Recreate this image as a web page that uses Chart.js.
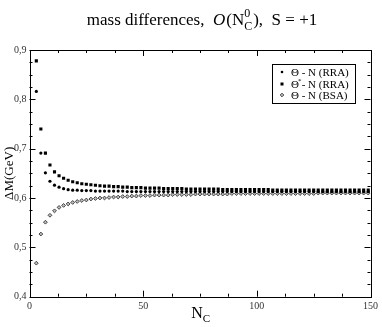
<!DOCTYPE html>
<html><head><meta charset="utf-8">
<script src="https://cdn.jsdelivr.net/npm/chart.js@4.4.1/dist/chart.umd.min.js"></script>
<style>html,body{margin:0;padding:0;background:#fff;}#wrap{width:382px;height:327px;}</style>
</head><body><div id="wrap"><canvas id="c" width="382" height="327"></canvas></div>
<script>
// N_C values (odd, 3..149)
const nc = [3,5,7,9,11,13,15,17,19,21,
  23,25,27,29,31,33,35,37,39,41,
  43,45,47,49,51,53,55,57,59,61,
  63,65,67,69,71,73,75,77,79,81,
  83,85,87,89,91,93,95,97,99,101,
  103,105,107,109,111,113,115,117,119,121,
  123,125,127,129,131,133,135,137,139,141,
  143,145,147,149];
// Θ - N (RRA)
const thetaRRA = [0.816,0.691,0.651,0.634,0.626,0.622,0.619,0.617,0.616,0.616,
  0.615,0.615,0.615,0.614,0.614,0.614,0.614,0.614,0.614,0.614,
  0.613,0.613,0.613,0.613,0.613,0.613,0.613,0.613,0.613,0.613,
  0.613,0.613,0.613,0.613,0.613,0.613,0.613,0.613,0.613,0.613,
  0.613,0.613,0.613,0.613,0.613,0.613,0.613,0.613,0.613,0.613,
  0.613,0.613,0.613,0.613,0.613,0.613,0.613,0.613,0.613,0.613,
  0.613,0.613,0.613,0.613,0.613,0.613,0.613,0.613,0.613,0.613,
  0.613,0.613,0.613,0.613];
// Θ* - N (RRA)
const thetaStarRRA = [0.878,0.740,0.691,0.667,0.653,0.645,0.640,0.636,0.633,0.631,
  0.629,0.628,0.627,0.626,0.625,0.624,0.624,0.623,0.623,0.622,
  0.622,0.621,0.621,0.621,0.620,0.620,0.620,0.620,0.619,0.619,
  0.619,0.619,0.619,0.618,0.618,0.618,0.618,0.618,0.618,0.618,
  0.618,0.617,0.617,0.617,0.617,0.617,0.617,0.617,0.617,0.617,
  0.617,0.617,0.616,0.616,0.616,0.616,0.616,0.616,0.616,0.616,
  0.616,0.616,0.616,0.616,0.616,0.616,0.616,0.616,0.616,0.616,
  0.616,0.616,0.616,0.616];
// Θ - N (BSA)
const thetaBSA = [0.468,0.527,0.551,0.565,0.574,0.581,0.585,0.588,0.591,0.593,
  0.595,0.596,0.598,0.599,0.600,0.600,0.601,0.602,0.602,0.603,
  0.603,0.604,0.604,0.605,0.605,0.605,0.606,0.606,0.606,0.606,
  0.607,0.607,0.607,0.607,0.607,0.608,0.608,0.608,0.608,0.608,
  0.608,0.608,0.608,0.609,0.609,0.609,0.609,0.609,0.609,0.609,
  0.609,0.609,0.609,0.609,0.609,0.609,0.609,0.609,0.609,0.609,
  0.609,0.609,0.610,0.610,0.610,0.610,0.610,0.610,0.610,0.610,
  0.610,0.610,0.610,0.610];
const xTickValues = [0,50,100,150];
const yTickValues = [0.4,0.5,0.6,0.7,0.8,0.9];

const SERIF = '"Liberation Serif","DejaVu Serif",serif';
const pts = arr => nc.map((n,i)=>({x:n,y:arr[i]}));

const decor = {
  id:'decor',
  afterDraw(chart){
    const ctx = chart.ctx, a = chart.chartArea;
    const xs = chart.scales.x, ys = chart.scales.y;
    ctx.save();
    ctx.strokeStyle = '#000'; ctx.lineWidth = 1;
    ctx.strokeRect(Math.round(a.left)+0.5, Math.round(a.top)+0.5, Math.round(a.right-a.left), Math.round(a.bottom-a.top));
    ctx.beginPath();
    for (let i=0;i<=12;i++){
      const v=i*12.5, px=Math.round(xs.getPixelForValue(v))+0.5, L=(i%4===0)?6:3;
      ctx.moveTo(px,a.bottom); ctx.lineTo(px,a.bottom-L);
      ctx.moveTo(px,a.top); ctx.lineTo(px,a.top+L);
    }
    for (let i=0;i<=20;i++){
      const v=0.4+i*0.025, py=Math.round(ys.getPixelForValue(v))+0.5, L=(i%4===0)?6:3;
      ctx.moveTo(a.left,py); ctx.lineTo(a.left+L,py);
      ctx.moveTo(a.right,py); ctx.lineTo(a.right-L,py);
    }
    ctx.stroke();

    // title
    ctx.fillStyle='#000'; ctx.textBaseline='alphabetic';
    const big='17px '+SERIF, bigI='italic 17px '+SERIF, sm='12px '+SERIF;
    ctx.font=big; const w1=ctx.measureText('mass differences,  ').width;
    ctx.font=bigI; const w2=ctx.measureText('O').width+1;
    ctx.font=big; const w3=ctx.measureText('(N').width;
    ctx.font=sm; const w4=Math.max(ctx.measureText('0').width,ctx.measureText('C').width)+1;
    ctx.font=big; const w5=ctx.measureText('),  S = +1').width;
    let x=(a.left+a.right)/2 - (w1+w2+w3+w4+w5)/2 + 2; const by=25;
    ctx.textAlign='left';
    ctx.font=big; ctx.fillText('mass differences,  ',x,by); x+=w1;
    ctx.font=bigI; ctx.fillText('O',x,by); x+=w2;
    ctx.font=big; ctx.fillText('(N',x,by); x+=w3;
    ctx.font=sm; ctx.fillText('0',x,by-8); ctx.fillText('C',x,by+5); x+=w4;
    ctx.font=big; ctx.fillText('),  S = +1',x,by);

    // x axis title
    const cx=(a.left+a.right)/2;
    ctx.font='16px '+SERIF; const wn=ctx.measureText('N').width;
    ctx.fillText('N',cx-wn/2-3,318);
    ctx.font='11px '+SERIF; ctx.fillText('C',cx+wn/2-3,322);

    // y axis title
    ctx.save();
    ctx.translate(13,(a.top+a.bottom)/2);
    ctx.rotate(-Math.PI/2);
    ctx.font='13px '+SERIF; ctx.textAlign='center';
    ctx.fillText('\u0394M(GeV)',0,0);
    ctx.restore();

    // legend
    const lx=272, ly=64, lw=83, lh=39;
    ctx.fillStyle='#fff'; ctx.fillRect(lx,ly,lw,lh);
    ctx.strokeStyle='#000'; ctx.lineWidth=1; ctx.strokeRect(lx+0.5,ly+0.5,lw,lh);
    ctx.fillStyle='#000'; ctx.font='11px '+SERIF; ctx.textAlign='left';
    const rows=[ly+12,ly+24,ly+35];
    ctx.beginPath(); ctx.arc(282,rows[0]-4,1.3,0,Math.PI*2); ctx.fill();
    ctx.fillRect(280.5,rows[1]-5.5,3,3);
    ctx.save(); ctx.translate(282,rows[2]-4); ctx.rotate(Math.PI/4);
    ctx.fillStyle='#bbb'; ctx.strokeStyle='#333'; ctx.lineWidth=0.8;
    ctx.fillRect(-1.3,-1.3,2.6,2.6); ctx.strokeRect(-1.3,-1.3,2.6,2.6); ctx.restore();
    ctx.fillStyle='#000';
    ctx.fillText('\u0398 - N (RRA)',291,rows[0]);
    ctx.fillText('\u0398',291,rows[1]);
    const wt=ctx.measureText('\u0398').width;
    ctx.font='7px '+SERIF; ctx.fillText('*',291+wt-1,rows[1]-5);
    ctx.font='11px '+SERIF; ctx.fillText(' - N (RRA)',291+wt,rows[1]);
    ctx.fillText('\u0398 - N (BSA)',291,rows[2]);
    ctx.restore();
  }
};

new Chart(document.getElementById('c'),{
  type:'scatter',
  data:{datasets:[
    {label:'\u0398 - N (RRA)',data:pts(thetaRRA),pointStyle:'circle',pointRadius:1.6,backgroundColor:'#000',borderColor:'#000',borderWidth:0},
    {label:'\u0398* - N (RRA)',data:pts(thetaStarRRA),pointStyle:'rect',pointRadius:2.2,backgroundColor:'#000',borderColor:'#000',borderWidth:0},
    {label:'\u0398 - N (BSA)',data:pts(thetaBSA),pointStyle:'rectRot',pointRadius:1.9,backgroundColor:'#bbb',borderColor:'#333',borderWidth:0.9}
  ]},
  options:{
    responsive:false,animation:false,
    layout:{padding:{top:50,right:9.5,left:0,bottom:0}},
    plugins:{legend:{display:false},tooltip:{enabled:false},title:{display:false}},
    scales:{
      x:{type:'linear',min:0,max:150,
        afterFit(s){s.height=30.3;},
        afterBuildTicks(s){s.ticks=xTickValues.map(v=>({value:v}));},
        grid:{display:false,drawTicks:false},border:{display:false},
        ticks:{padding:4,color:'#333',font:{family:SERIF,size:10},maxRotation:0,callback:v=>String(v)}},
      y:{type:'linear',min:0.4,max:0.9,
        afterFit(s){s.width=29.5;},
        afterBuildTicks(s){s.ticks=yTickValues.map(v=>({value:v}));},
        grid:{display:false,drawTicks:false},border:{display:false},
        ticks:{padding:3,color:'#333',font:{family:SERIF,size:10},callback:v=>v.toFixed(1).replace('.',',')}}
    }
  },
  plugins:[decor]
});
</script></body></html>
